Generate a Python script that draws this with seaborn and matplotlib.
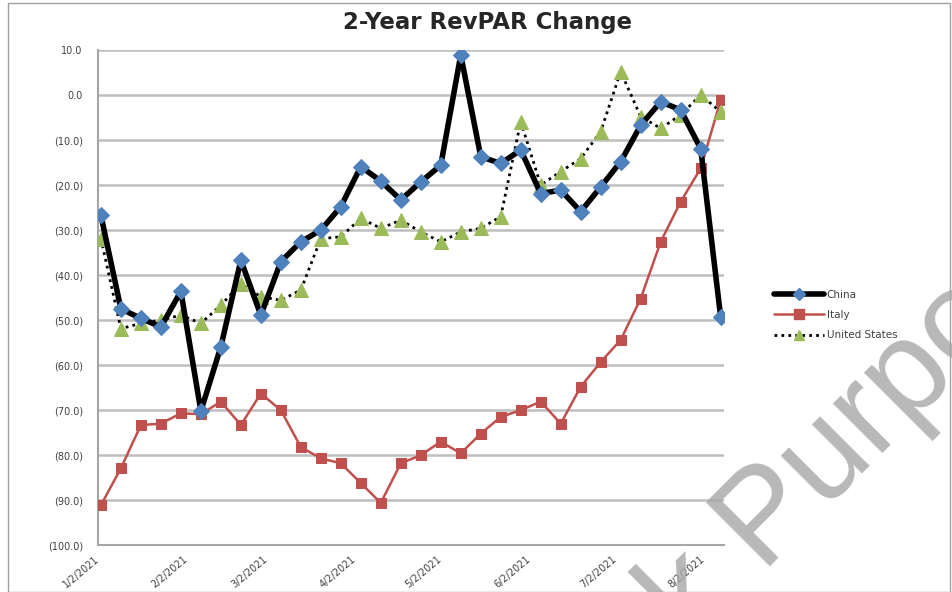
# plot.py — 2-Year RevPAR Change (weekly, China / Italy / United States)
import pandas as pd
import matplotlib
matplotlib.use("Agg")
import matplotlib.pyplot as plt
import matplotlib.dates as mdates
from matplotlib.ticker import FuncFormatter, MultipleLocator
from matplotlib.lines import Line2D
import seaborn as sns

# ── Data ──────────────────────────────────────────────────────
weeks = pd.date_range("2021-01-02", periods=32, freq="7D")

china = [-26.7, -47.5, -49.6, -51.5, -43.6, -70.2, -55.9, -36.7, -48.9, -37.0,
         -32.6, -30.0, -24.8, -15.9, -19.1, -23.3, -19.3, -15.6, 8.9, -13.7,
         -15.2, -12.2, -21.9, -21.1, -25.9, -20.4, -14.8, -6.7, -1.5, -3.3,
         -11.9, -49.3]
italy = [-91.1, -82.9, -73.3, -73.0, -70.7, -70.9, -68.1, -73.3, -66.3, -70.0,
         -78.2, -80.7, -81.8, -86.2, -90.6, -81.8, -80.0, -77.0, -79.6, -75.2,
         -71.5, -70.0, -68.1, -73.0, -64.8, -59.3, -54.4, -45.2, -32.6, -23.7,
         -16.3, -1.1]
usa = [-31.9, -51.9, -50.7, -50.0, -48.9, -50.7, -46.7, -41.9, -44.8, -45.6,
       -43.3, -31.9, -31.5, -27.4, -29.6, -27.8, -30.4, -32.6, -30.4, -29.6,
       -27.0, -5.9, -20.0, -17.0, -14.1, -8.1, 5.2, -4.8, -7.4, -4.4,
       0.0, -3.7]

df = pd.DataFrame({"Week": weeks, "China": china, "Italy": italy, "United States": usa})

# ── Style ─────────────────────────────────────────────────────
sns.set_style("white")
plt.rcParams["font.family"] = ["DejaVu Sans"]

BLUE, RED, GREEN = "#4F81BD", "#C0504D", "#9BBB59"
GRID = "#bfbfbf"

fig = plt.figure(figsize=(9.52, 5.92), dpi=100)
ax = fig.add_axes([0.103, 0.079, 0.657, 0.8365])

# ── Lines ─────────────────────────────────────────────────────
sns.lineplot(data=df, x="Week", y="Italy", ax=ax, color=RED, lw=1.8,
             marker="s", markersize=7, markerfacecolor=RED, markeredgecolor=RED,
             zorder=3)
sns.lineplot(data=df, x="Week", y="United States", ax=ax, color="black", lw=2.0,
             linestyle=(0, (1, 1.5)), marker="^", markersize=10,
             markerfacecolor=GREEN, markeredgecolor=GREEN, zorder=4)
sns.lineplot(data=df, x="Week", y="China", ax=ax, color="black", lw=4.0,
             marker="D", markersize=8, markerfacecolor=BLUE, markeredgecolor=BLUE,
             zorder=5)

# ── Axes ──────────────────────────────────────────────────────
ax.set_ylim(-100, 10)
ax.yaxis.set_major_locator(MultipleLocator(10))
ax.yaxis.set_major_formatter(FuncFormatter(
    lambda v, p: f"{v:.1f}" if v >= 0 else f"({abs(v):.1f})"))
ax.set_xlim(pd.Timestamp("2021-01-01"), pd.Timestamp("2021-08-08"))
ax.xaxis.set_major_locator(mdates.MonthLocator(bymonthday=2))
ax.xaxis.set_major_formatter(FuncFormatter(
    lambda v, p: (lambda d: f"{d.month}/{d.day}/{d.year}")(mdates.num2date(v))))
plt.setp(ax.get_xticklabels(), rotation=40, ha="right", fontsize=7, color="#404040")
plt.setp(ax.get_yticklabels(), fontsize=7, color="#404040")
ax.set_xlabel("")
ax.set_ylabel("")

ax.grid(axis="y", color=GRID, lw=1.8)
ax.set_axisbelow(True)
for side in ["top", "right"]:
    ax.spines[side].set_visible(False)
for side in ["left", "bottom"]:
    ax.spines[side].set_color("#a6a6a6")
    ax.spines[side].set_linewidth(1.5)
ax.tick_params(axis="y", direction="out", length=5, width=1.2, color="#a6a6a6", pad=6)
ax.tick_params(axis="x", direction="out", length=4, width=1.0, color="#a6a6a6", pad=2)

fig.suptitle("2-Year RevPAR Change", x=0.512, y=0.982, fontsize=16.5,
             fontweight="bold", color="#262626")

# ── Legend ────────────────────────────────────────────────────
handles = [
    Line2D([], [], color="black", lw=4.0, marker="D", markersize=6,
           markerfacecolor=BLUE, markeredgecolor=BLUE),
    Line2D([], [], color=RED, lw=1.8, marker="s", markersize=7,
           markerfacecolor=RED, markeredgecolor=RED),
    Line2D([], [], color="black", lw=2.0, linestyle=(0, (1, 1.5)), marker="^",
           markersize=7, markerfacecolor=GREEN, markeredgecolor=GREEN),
]
ax.legend(handles, ["China", "Italy", "United States"], loc="center left",
          bbox_to_anchor=(1.065, 0.465), frameon=False, fontsize=7.5,
          handlelength=4.8, labelspacing=1.0, handletextpad=0.3, labelcolor="#404040")

# ── Chart border + watermark ─────────────────────────────────
fig.patches.append(plt.Rectangle((0.008, 0.0), 0.99, 0.995, transform=fig.transFigure,
                                 fill=False, edgecolor="#a0a0a0", lw=1.0))
fig.text(690 / 952, 1 - 646 / 592, "k Purposes", fontsize=95, color="#a6a6a6",
         alpha=0.8, rotation=45, rotation_mode="anchor", ha="left", va="baseline",
         family="Liberation Sans", zorder=10)

fig.savefig("out.png", dpi=100)
